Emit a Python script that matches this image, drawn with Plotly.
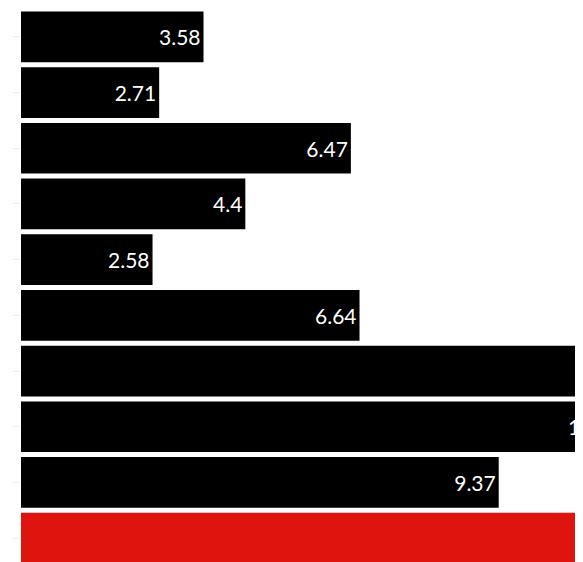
import plotly.graph_objects as go

# bar values, top to bottom
categories = ["a", "b", "c", "d", "e", "f", "g", "h", "i", "j"]
values = [3.58, 2.71, 6.47, 4.4, 2.58, 6.64, 13.2, 11.6, 9.37, 14.5]
colors = ["black"] * 9 + ["#e0140f"]

fig = go.Figure(go.Bar(
    x=values, y=categories, orientation="h",
    marker=dict(color=colors, line=dict(width=0)),
    text=[str(v) for v in values], textposition="inside",
    insidetextanchor="end", textangle=0,
    textfont=dict(family="Lato", size=21, color="white"),
    cliponaxis=True,
))

fig.update_layout(
    width=583, height=562,
    margin=dict(l=13, r=0, t=1, b=4),
    plot_bgcolor="white", paper_bgcolor="white",
    bargap=0.09, showlegend=False,
    uniformtext=dict(mode="show", minsize=10),
    xaxis=dict(range=[0, 11.18], visible=False, fixedrange=True),
    yaxis=dict(autorange="reversed", showticklabels=False, ticks="outside",
               ticklen=8, tickcolor="#eeeeee", showline=False, showgrid=False,
               automargin=False),
)

fig.write_html("out.html")
